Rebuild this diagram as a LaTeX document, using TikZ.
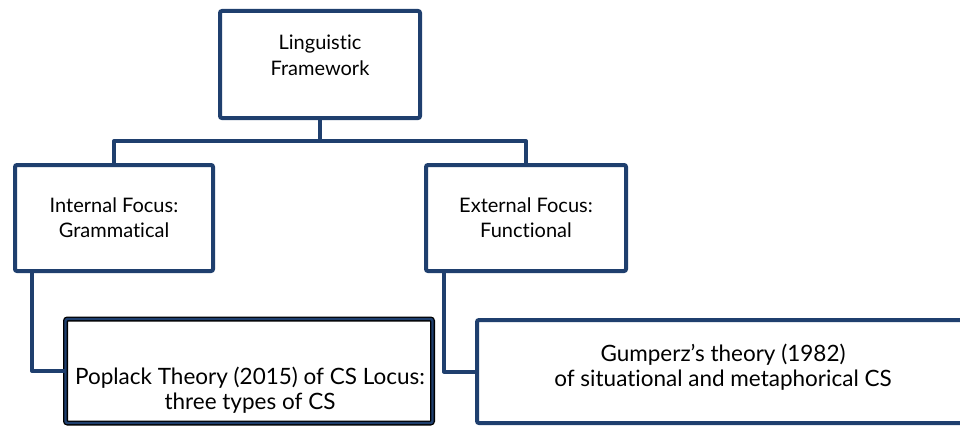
\documentclass[tikz,border=0pt]{standalone}
\usepackage{fontspec}
\setmainfont{Lato}[Ligatures=NoCommon]
\usepackage{tikz}

\definecolor{framenavy}{HTML}{1F3F6E}

\begin{document}
\begin{tikzpicture}[x=1pt, y=-1pt,
    box/.style={draw=framenavy, line width=4pt, fill=white, rounded corners=2pt,
                align=center, inner sep=0pt, font=\fontsize{20}{25}\selectfont},
    doublebox/.style={box, draw=black, line width=1.3pt, double=framenavy, double distance=2.4pt},
    boxtext/.style={align=center, inner sep=0pt, anchor=base, font=\fontsize{20}{25}\selectfont},
    bigtext/.style={boxtext, font=\fontsize{22.5}{25}\selectfont},
    link/.style={draw=framenavy, line width=4pt, line join=round}]
    \useasboundingbox (0,0) rectangle (960,428);

    % Define the tree nodes
    \node[box, minimum width=200pt, minimum height=107pt] (frame) at (320,64.5) {};
    \node[box, minimum width=198pt, minimum height=106pt] (internal) at (114,218) {Internal Focus:\\Grammatical};
    \node[box, minimum width=200pt, minimum height=106pt] (external) at (526,218) {External Focus:\\Functional};
    \node[doublebox, minimum width=367pt, minimum height=104pt] (poplack) at (249,371) {};
    \node[box, minimum width=493pt, minimum height=103pt] (gumperz) at (723.5,371.5) {};

    % Texts set apart from their boxes
    \node[boxtext] (frametext) at (320,75) {Linguistic\\Framework};
    \node[bigtext] (poplacktext) at (250,409) {Poplack Theory (2015) of CS Locus:\\three types of CS};
    \node[bigtext] (gumperztext) at (723,386) {Gumperz's theory (1982)\\of situational and metaphorical CS};

    % Fork below the top box
    \coordinate (fork) at (320,141);

    % Draw connectors
    \draw[link] (frame.south) -- (fork) -| (internal.north);
    \draw[link] (fork) -| (external.north);
    \draw[link] ([xshift=19pt]internal.south west) |- (poplack.west);
    \draw[link] ([xshift=20pt]external.south west) |- (gumperz.west);
\end{tikzpicture}
\end{document}
